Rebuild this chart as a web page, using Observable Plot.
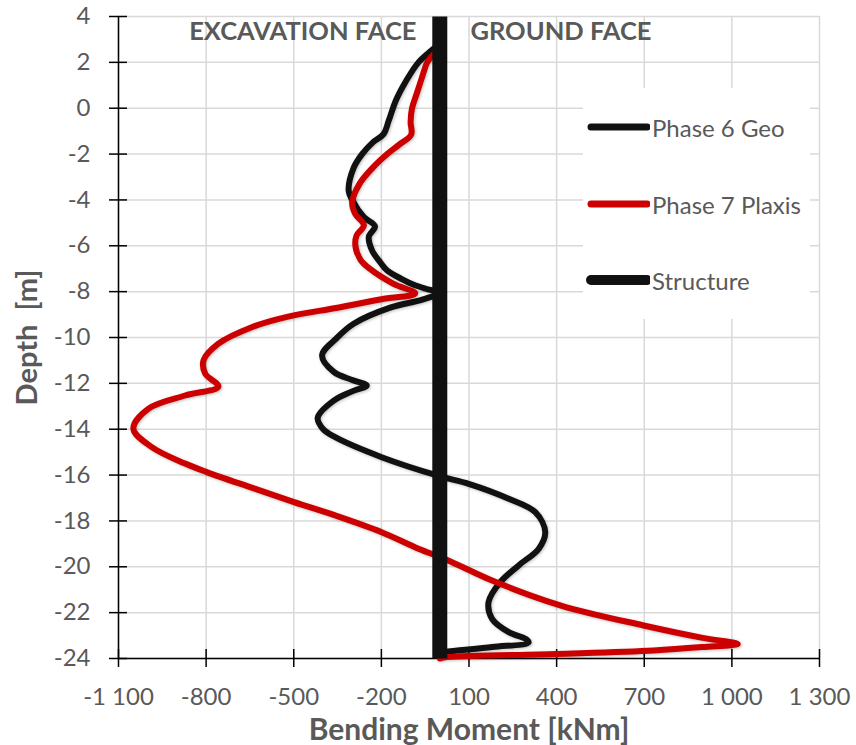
<!DOCTYPE html>
<html>
<head>
<meta charset="utf-8">
<script src="https://cdn.jsdelivr.net/npm/d3@7"></script>
<script src="https://cdn.jsdelivr.net/npm/@observablehq/plot@0.6"></script>
<style>
  body { margin: 0; background: white; }
  #wrap { position: relative; width: 856px; height: 745px; font-family: Lato, sans-serif; }
  #legend { position: absolute; left: 583px; top: 88px; width: 227px; height: 231px; background: white; }
  .lg { position: absolute; left: 0; height: 30px; display: flex; align-items: center; }
  .lg span { font-size: 24px; color: #595959; margin-left: 2px; white-space: nowrap; }
</style>
</head>
<body>
<div id="wrap"></div>
<script>
// ---- data ----
const xTicks = [-1100, -800, -500, -200, 100, 400, 700, 1000, 1300];
const yTicks = [-24, -22, -20, -18, -16, -14, -12, -10, -8, -6, -4, -2, 0, 2, 4];

const seriesNames = ["Phase 6 Geo", "Phase 7 Plaxis", "Structure"];
const faceLabels = ["EXCAVATION FACE", "GROUND FACE"];
const axisTitles = ["Bending Moment [kNm]", "Depth\u00A0\u00A0[m]"];

const geoMoment = [0, -30, -73, -115, -150, -175, -192, -230, -266, -295, -312, -300, -260, -222, -243, -232, -205, -180, -130, -89, -40, 0,
  -60, -170, -295, -351, -403, -363, -300, -250, -300, -363, -418, -399, -358, -199, 0, 99, 236, 327, 361, 339, 270, 207, 167, 179, 236, 293, 304, 179, 19, 0];
const geoDepth = [2.8, 2.5, 2.0, 1.2, 0.35, -0.55, -1.12, -1.5, -2.0, -2.6, -3.6, -4.0, -4.75, -5.15, -5.6, -6.2, -6.7, -7.08, -7.45, -7.7, -7.9, -8.05,
  -8.35, -8.7, -9.4, -10.0, -10.78, -11.5, -11.85, -12.09, -12.35, -12.75, -13.5, -14.0, -14.35, -15.22, -16.05, -16.38, -17.03, -17.62, -18.49, -19.21, -19.94, -20.67, -21.54, -22.27, -22.85, -23.14, -23.3, -23.5, -23.72, -23.76];

const plaxisMoment = [0, -25, -43, -62, -80, -95, -100, -98, -140, -180, -230, -275, -300, -290, -260, -285, -289, -272, -240, -160, -84,
  -200, -350, -523, -644, -758, -809, -803, -758, -872, -997, -1049, -986, -872, -798, -644, -499, -358, -199, -73, 25, 179, 415, 698, 900, 1020, 900, 732, 400, 25, 0];
const plaxisDepth = [2.6, 2.3, 2.0, 1.3, 0.6, 0.0, -0.6, -1.15, -1.6, -2.0, -2.6, -3.3, -4.1, -4.6, -5.1, -5.55, -6.0, -6.6, -7.0, -7.65, -8.08,
  -8.33, -8.7, -9.1, -9.55, -10.27, -11.0, -11.58, -12.14, -12.53, -13.1, -13.98, -14.78, -15.5, -15.87, -16.55, -17.18, -17.76, -18.49, -19.21, -19.7, -20.6, -21.69, -22.56, -23.1, -23.36, -23.5, -23.65, -23.8, -23.94, -24.0];

const structureMoment = [0, 0];
const structureDepth = [4, -24];

// ---- build tables ----
const geo = geoMoment.map((m, i) => ({m, d: geoDepth[i]}));
const plaxis = plaxisMoment.map((m, i) => ({m, d: plaxisDepth[i]}));
const structure = structureMoment.map((m, i) => ({m, d: structureDepth[i]}));

const fmt = v => (v < 0 ? "-" : "") + String(Math.abs(v)).replace(/\B(?=(\d{3})+(?!\d))/g, " ");

const BLACK = "#111111", RED = "#cc0000", GRID = "#d9d9d9", TXT = "#595959";

const chart = Plot.plot({
  width: 856, height: 745,
  marginLeft: 118, marginRight: 37, marginTop: 16, marginBottom: 87,
  x: {domain: [-1100, 1300]},
  y: {domain: [-24, 4]},
  style: {fontFamily: "Lato, sans-serif", fontSize: "24px", background: "white", color: TXT},
  marks: [
    Plot.gridX({ticks: xTicks, stroke: GRID, strokeOpacity: 1, strokeWidth: 1.5}),
    Plot.gridY({ticks: yTicks, stroke: GRID, strokeOpacity: 1, strokeWidth: 1.5}),
    Plot.axisX({ticks: xTicks, tickSize: 18, dy: -9, tickPadding: 20, tickFormat: fmt, stroke: "black", strokeWidth: 1.5, fill: TXT, label: null}),
    Plot.axisY({ticks: yTicks, tickSize: 18, dx: 9, tickPadding: 19, tickFormat: fmt, stroke: "black", strokeWidth: 1.5, fill: TXT, label: null}),
    Plot.ruleX([-1100], {stroke: "black", strokeWidth: 1.5}),
    Plot.ruleY([-24], {stroke: "black", strokeWidth: 1.5}),
    Plot.line(geo, {x: "m", y: "d", stroke: BLACK, strokeWidth: 6, curve: "catmull-rom", strokeLinejoin: "round", strokeLinecap: "round"}),
    Plot.line(plaxis, {x: "m", y: "d", stroke: RED, strokeWidth: 6, curve: "catmull-rom", strokeLinejoin: "round", strokeLinecap: "round"}),
    Plot.line(structure, {x: "m", y: "d", stroke: BLACK, strokeWidth: 15, strokeLinecap: "butt"}),
    Plot.text([faceLabels[0]], {x: -80, y: 3.35, text: d => d, textAnchor: "end", fontWeight: "bold", fontSize: 25.5, fill: TXT}),
    Plot.text([faceLabels[1]], {x: 105, y: 3.35, text: d => d, textAnchor: "start", fontWeight: "bold", fontSize: 25.5, fill: TXT}),
    Plot.text([axisTitles[0]], {frameAnchor: "bottom", dy: 72, textAnchor: "middle", lineAnchor: "middle", fontWeight: "bold", fontSize: 30, fill: TXT}),
    Plot.text([axisTitles[1]], {frameAnchor: "left", dx: -91, rotate: -90, textAnchor: "middle", lineAnchor: "middle", fontWeight: "bold", fontSize: 29, fill: TXT})
  ]
});

const wrap = document.getElementById("wrap");
wrap.appendChild(chart);

// subtle shadow like the original
chart.querySelectorAll('g[aria-label="line"] path').forEach((p, i) => {
  if (i < 2) p.style.filter = "drop-shadow(1.5px 1.5px 1.5px rgba(0,0,0,0.25))";
});

// ---- legend ----
const legend = document.createElement("div");
legend.id = "legend";
const entries = [
  {name: seriesNames[0], color: BLACK, w: 7, top: 24},
  {name: seriesNames[1], color: RED, w: 7, top: 101},
  {name: seriesNames[2], color: BLACK, w: 10, top: 177}
];
entries.forEach(e => {
  const row = document.createElement("div");
  row.className = "lg";
  row.style.top = e.top + "px";
  row.innerHTML = `<svg width="67" height="30"><line x1="8" y1="15" x2="64" y2="15" stroke="${e.color}" stroke-width="${e.w}" stroke-linecap="round"/></svg><span>${e.name}</span>`;
  legend.appendChild(row);
});
wrap.appendChild(legend);
</script>
</body>
</html>
